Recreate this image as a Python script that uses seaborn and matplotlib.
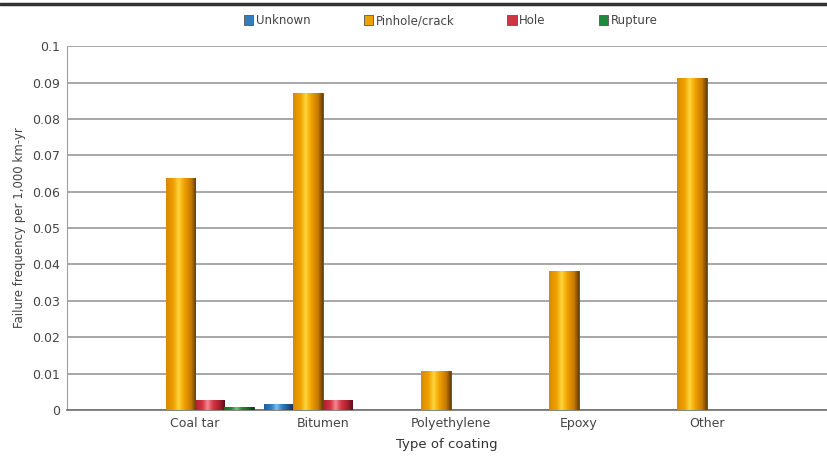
import numpy as np
import pandas as pd
import matplotlib
matplotlib.use("Agg")
import matplotlib.pyplot as plt
import seaborn as sns
from matplotlib.colors import LinearSegmentedColormap, to_hex
from matplotlib.lines import Line2D
from matplotlib.patches import Patch

# data
coatings = ["Coal tar", "Bitumen", "Polyethylene", "Epoxy", "Other"]
failure_types = ["Unknown", "Pinhole/crack", "Hole", "Rupture"]
unknown = [0.0, 0.0017, 0.0, 0.0, 0.0]
pinhole = [0.0637, 0.0871, 0.0107, 0.0382, 0.0912]
hole = [0.0027, 0.0027, 0.0, 0.0, 0.0]
rupture = [0.0008, 0.0, 0.0, 0.0, 0.0]
y_ticks = [0, 0.01, 0.02, 0.03, 0.04, 0.05, 0.06, 0.07, 0.08, 0.09, 0.1]
y_tick_labels = ["0", "0.01", "0.02", "0.03", "0.04", "0.05", "0.06", "0.07", "0.08", "0.09", "0.1"]

colors = {"Unknown": "#2f7fc0", "Pinhole/crack": "#f0a000", "Hole": "#d23441", "Rupture": "#1f8a3e"}
# left -> right shading across each bar (cylinder look)
shades = {
    "#2f7fc0": ["#1f5f9a", "#2f80c4", "#7cc0ee", "#2f80c4", "#1c4f80", "#10304f"],
    "#f0a000": ["#d88a00", "#f0a000", "#ffd43a", "#f2a400", "#c47800", "#6a4000"],
    "#d23441": ["#a8202c", "#d83545", "#f08a94", "#d83545", "#a01e2a", "#5a1018"],
    "#1f8a3e": ["#156a2c", "#1f8a3e", "#6fc88a", "#1f8a3e", "#12602a", "#0a3a18"],
}

rows = []
for series, name in zip([unknown, pinhole, hole, rupture], failure_types):
    for c, v in zip(coatings, series):
        rows.append({"coating": c, "type": name, "freq": v})
df = pd.DataFrame(rows)

sns.set_style("white")
plt.rcParams["font.family"] = ["DejaVu Sans"]

fig = plt.figure(figsize=(8.27, 4.57), dpi=100)
ax = fig.add_axes([0.081, 0.103, 0.919, 0.796])

sns.barplot(data=df, x="coating", y="freq", hue="type", order=coatings,
            hue_order=failure_types, palette=colors, width=0.92, gap=0,
            saturation=1, edgecolor="#5a3a00", linewidth=0.6, legend=False,
            ax=ax, zorder=3)

for patch in ax.patches:
    h = patch.get_height()
    if h <= 0:
        patch.set_visible(False)
        continue
    stops = shades.get(to_hex(patch.get_facecolor()), shades["#f0a000"])
    cmap = LinearSegmentedColormap.from_list(
        "cyl", list(zip([0, 0.25, 0.42, 0.6, 0.85, 1.0], stops)))
    x0 = patch.get_x()
    w = patch.get_width()
    grad = np.linspace(0, 1, 64).reshape(1, -1)
    im = ax.imshow(grad, cmap=cmap, aspect="auto", extent=(x0, x0 + w, 0, h),
                   zorder=3.5, interpolation="bilinear")
    im.set_clip_path(patch)
    patch.set_edgecolor(stops[-1])

ax.set_xlim(-1.0, 4.94)
ax.set_ylim(0, 0.1)
ax.set_yticks(y_ticks)
ax.set_yticklabels(y_tick_labels)
ax.yaxis.grid(True, color="#909090", linewidth=1.1, zorder=0)
ax.set_axisbelow(True)

for s in ["top", "right"]:
    ax.spines[s].set_visible(False)
ax.spines["left"].set_color("#a0a0a0")
ax.spines["bottom"].set_color("#707070")
ax.spines["bottom"].set_linewidth(1.2)

ax.tick_params(axis="y", length=4, color="#a0a0a0", labelsize=9, labelcolor="#444444", pad=1)
ax.tick_params(axis="x", length=0, labelsize=9, labelcolor="#444444", pad=5)
ax.set_xlabel("Type of coating", fontsize=9.5, color="#333333", labelpad=6)
ax.set_ylabel("Failure frequency per 1,000 km-yr", fontsize=8.5, color="#444444", labelpad=4)

# top border line
fig.add_artist(Line2D([0, 1], [0.992, 0.992], color="#333333", linewidth=2.5))

handles = [Patch(facecolor=colors[t], edgecolor="#555555", linewidth=0.6) for t in failure_types]
fig.legend(handles, failure_types, loc="center", bbox_to_anchor=(0.545, 0.955), ncol=4,
           frameon=False, fontsize=8.5, handlelength=0.8, handleheight=1.0,
           handletextpad=0.2, columnspacing=4.5, labelcolor="#444444")

fig.savefig("out.png", dpi=100)
